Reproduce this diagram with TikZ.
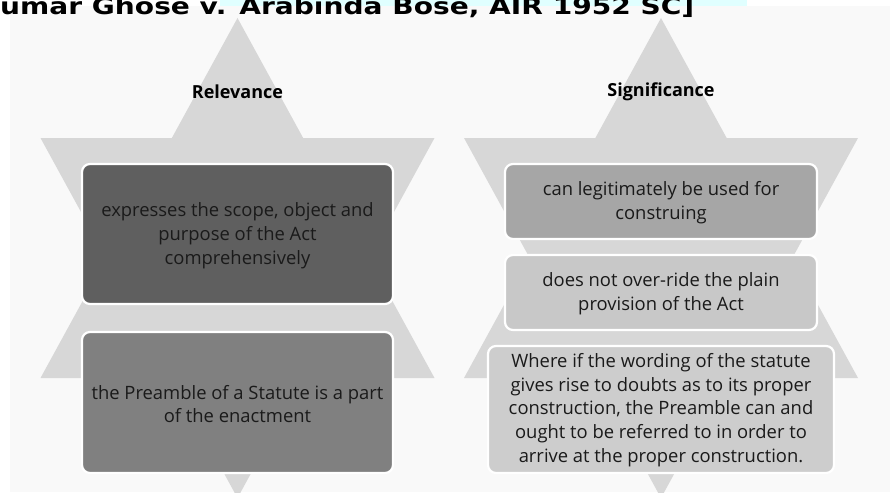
\documentclass[tikz,border=0pt]{standalone}
\usepackage{fontspec}
\setmainfont{Open Sans}
\newfontfamily\titlefont{DejaVu Sans}
\definecolor{panelbg}{HTML}{F9F9F9}
\definecolor{stargray}{HTML}{D7D7D7}
\definecolor{hilite}{HTML}{E0FFFF}
\definecolor{boxA}{HTML}{5F5F5F}
\definecolor{boxB}{HTML}{808080}
\definecolor{boxC}{HTML}{A6A6A6}
\definecolor{boxD}{HTML}{C8C8C8}
\definecolor{boxE}{HTML}{CDCDCD}
\definecolor{txt}{HTML}{1A1A1A}
\tikzset{
  star/.style={fill=stargray, draw=none},
  itembox/.style={draw=white, line width=2.2pt, rounded corners=8pt},
  itemtext/.style={text=txt, align=center, font=\fontsize{18.4}{23.8}\selectfont, inner sep=0pt},
  headtext/.style={text=black, font=\bfseries\fontsize{18}{21}\selectfont, inner sep=0pt}
}
\begin{document}
\begin{tikzpicture}[x=1pt,y=-1pt]
\useasboundingbox (0,0) rectangle (890,492);
\begin{scope}
\clip (0,0) rectangle (890,492);
\fill[white] (0,0) rectangle (890,492);
\fill[hilite] (220,0) rectangle (747,6);
\fill[panelbg] (10,6) rectangle (890,492);
\node[anchor=base west, inner sep=0pt, font=\titlefont\bfseries\fontsize{23}{26}\selectfont] (title) at (0,15) {\scalebox{1.22}[1]{umar Ghose v. Arabinda Bose, AIR 1952 SC]}};
% left hexagram
\fill[star] (237.5,18) -- (434.5,378) -- (40.5,378) -- cycle;
\fill[star] (40.5,138) -- (434.5,138) -- (237.5,498) -- cycle;
% right hexagram
\fill[star] (661,18) -- (858,378) -- (464,378) -- cycle;
\fill[star] (464,138) -- (858,138) -- (661,498) -- cycle;
% headings
\node[headtext] (rel) at (237.5,92) {Relevance};
\node[headtext] (sig) at (661,92) {Significance};
% left boxes
\filldraw[itembox, fill=boxA] (82,164) rectangle (393,304);
\node[itemtext] (l1) at (237.5,236) {expresses the scope, object and\\purpose of the Act\\comprehensively};
\filldraw[itembox, fill=boxB] (82,332) rectangle (393,473);
\node[itemtext] (l2) at (237.5,404) {the Preamble of a Statute is a part\\of the enactment};
% right boxes
\filldraw[itembox, fill=boxC] (505,164) rectangle (817,239);
\node[itemtext] (r1) at (661,203) {can legitimately be used for\\construing};
\filldraw[itembox, fill=boxD] (505,255) rectangle (817,330);
\node[itemtext] (r2) at (661,294) {does not over-ride the plain\\provision of the Act};
\filldraw[itembox, fill=boxE] (488,346) rectangle (834,473);
\node[itemtext] (r3) at (661,410) {Where if the wording of the statute\\gives rise to doubts as to its proper\\construction, the Preamble can and\\ought to be referred to in order to\\arrive at the proper construction.};
\end{scope}
\end{tikzpicture}
\end{document}
